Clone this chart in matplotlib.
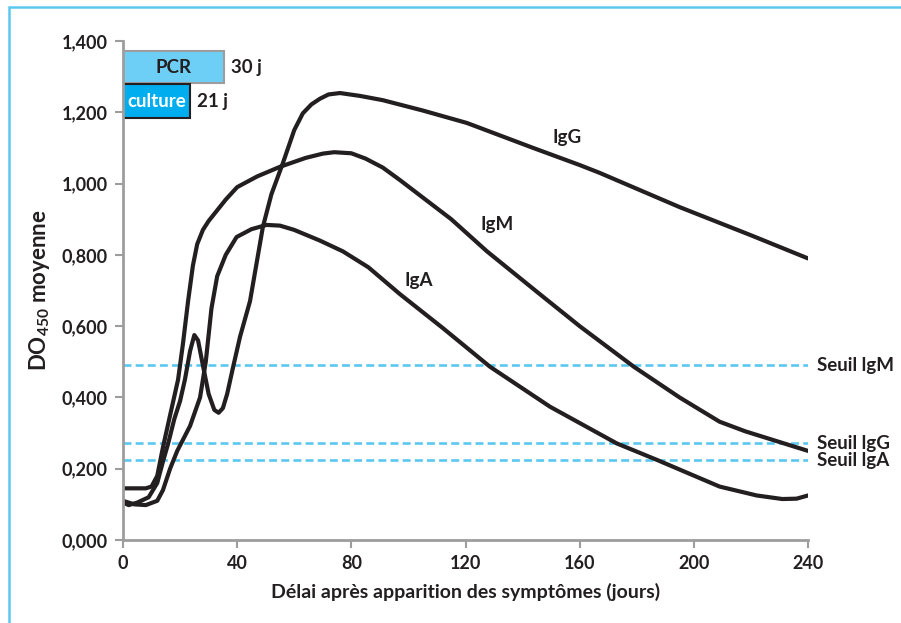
import matplotlib
matplotlib.use('Agg')
import matplotlib.pyplot as plt
from matplotlib.patches import Rectangle

plt.rcParams['font.family'] = ['Lato', 'DejaVu Sans']
plt.rcParams['font.weight'] = 'bold'
plt.rcParams['mathtext.fontset'] = 'custom'
plt.rcParams['mathtext.bf'] = 'Lato:bold'
plt.rcParams['mathtext.rm'] = 'Lato:bold'
plt.rcParams['mathtext.default'] = 'bf'

# --- données ---
igg_x = [0, 2, 5, 9, 12, 14, 15.8, 18, 20, 21.7, 23.5, 25, 26.3, 28, 30, 32, 33.5, 35,
         36.5, 38.6, 41, 44.5, 49, 52, 56, 60, 63, 66, 69, 72, 76, 83, 91, 105, 120.5,
         143.7, 160, 167, 195, 220, 240]
igg_y = [0.105, 0.098, 0.105, 0.12, 0.16, 0.22, 0.27, 0.34, 0.39, 0.45, 0.53, 0.575, 0.56,
         0.49, 0.41, 0.365, 0.357, 0.37, 0.41, 0.486, 0.57, 0.67, 0.878, 0.97, 1.057, 1.15,
         1.197, 1.222, 1.238, 1.25, 1.254, 1.246, 1.234, 1.205, 1.17, 1.10, 1.052, 1.03,
         0.934, 0.855, 0.79]

igm_x = [0, 8, 10, 12, 14, 16.5, 19.3, 21, 22.8, 24.5, 26, 28, 30, 33, 36, 40, 47, 55,
         64, 70, 74, 80, 85, 91, 97, 106, 115, 127.5, 146, 160, 179, 195, 209, 218, 228, 240]
igm_y = [0.145, 0.145, 0.15, 0.18, 0.26, 0.35, 0.45, 0.55, 0.67, 0.77, 0.83, 0.87, 0.895,
         0.925, 0.955, 0.99, 1.02, 1.047, 1.072, 1.084, 1.088, 1.085, 1.07, 1.045, 1.01,
         0.955, 0.9, 0.81, 0.69, 0.60, 0.486, 0.40, 0.332, 0.305, 0.28, 0.25]

iga_x = [0, 4, 8, 12, 14, 16.5, 19, 23.5, 27, 29, 31, 33, 36, 39.8, 45, 50.3, 55, 60, 69,
         77, 86, 97, 112, 128.6, 149.6, 173, 187, 209, 222, 231, 236, 240]
iga_y = [0.11, 0.10, 0.098, 0.11, 0.14, 0.20, 0.25, 0.32, 0.40, 0.50, 0.65, 0.74, 0.80,
         0.85, 0.872, 0.884, 0.882, 0.87, 0.84, 0.81, 0.765, 0.69, 0.595, 0.486, 0.374,
         0.271, 0.225, 0.15, 0.125, 0.115, 0.116, 0.125]

curve_labels = ['IgG', 'IgM', 'IgA']
curve_label_x = [155.6, 131, 103.7]
curve_label_y = [1.128, 0.886, 0.729]

seuil_labels = ['Seuil lgM', 'Seuil lgG', 'Seuil lgA']
seuil_values = [0.49, 0.271, 0.224]

box_names = ['PCR', 'culture']
box_ends = [35.4, 23.5]          # longueur dessinée des barres (jours)
box_centers = [1.327, 1.231]
box_texts = ['30 j', '21 j']

xticks = [0, 40, 80, 120, 160, 200, 240]
yticks = [0, 0.2, 0.4, 0.6, 0.8, 1.0, 1.2, 1.4]
ytick_labels = ['0,000', '0,200', '0,400', '0,600', '0,800', '1,000', '1,200', '1,400']

dark = '#231f20'
grey = '#9d9d9d'
cyan = '#5bc8f0'

fig = plt.figure(figsize=(9.01, 6.23), dpi=100)
ax = fig.add_axes([0.1365, 0.1332, 0.7603, 0.8010])

# cadre bleu autour de la figure
fig.add_artist(Rectangle((0.010, -0.1), 1.2, 1.0887, transform=fig.transFigure,
                         fill=False, edgecolor=cyan, linewidth=1.8))

for v in seuil_values:
    ax.plot([0, 240], [v, v], color=cyan, linewidth=1.9, dashes=(3.0, 1.6))
for lab, v in zip(seuil_labels, seuil_values):
    ax.text(243, v, lab, fontsize=13.5, color=dark, va='center', ha='left', clip_on=False)

for xs, ys in [(igg_x, igg_y), (igm_x, igm_y), (iga_x, iga_y)]:
    ax.plot(xs, ys, color=dark, linewidth=3, solid_joinstyle='round', solid_capstyle='round')

for lab, x, y in zip(curve_labels, curve_label_x, curve_label_y):
    ax.text(x, y, lab, fontsize=13.5, color=dark, ha='center', va='center')

# barres PCR / culture
ax.barh(box_centers[0], box_ends[0], height=0.09, left=0, color='#6dcff6',
        edgecolor=grey, linewidth=1.5)
ax.barh(box_centers[1], box_ends[1], height=0.095, left=0, color='#00aeef',
        edgecolor=dark, linewidth=1.5)
ax.text(box_ends[0] / 2, box_centers[0], box_names[0], fontsize=13.5, color=dark,
        ha='center', va='center')
ax.text(box_ends[1] / 2, box_centers[1], box_names[1], fontsize=13.5, color='white',
        ha='center', va='center')
for end, c, t in zip(box_ends, box_centers, box_texts):
    ax.text(end + 2.5, c, t, fontsize=13.5, color=dark, ha='left', va='center')

ax.set_xlim(0, 240)
ax.set_ylim(0, 1.4)
ax.set_xticks(xticks)
ax.set_xticklabels([str(t) for t in xticks])
ax.set_yticks(yticks)
ax.set_yticklabels(ytick_labels)
ax.tick_params(axis='both', colors=grey, labelcolor=dark, labelsize=13, length=6,
               width=1.5, pad=5)
for s in ['top', 'right']:
    ax.spines[s].set_visible(False)
for s in ['left', 'bottom']:
    ax.spines[s].set_color(grey)
    ax.spines[s].set_linewidth(2)

ax.set_xlabel('Délai après apparition des symptômes (jours)', fontsize=14, color=dark,
              labelpad=8, fontweight='bold')
ax.set_ylabel(r'DO$_{450}$ moyenne', fontsize=16, color=dark, labelpad=7,
              fontweight='bold')

fig.savefig('out.png', dpi=100)
